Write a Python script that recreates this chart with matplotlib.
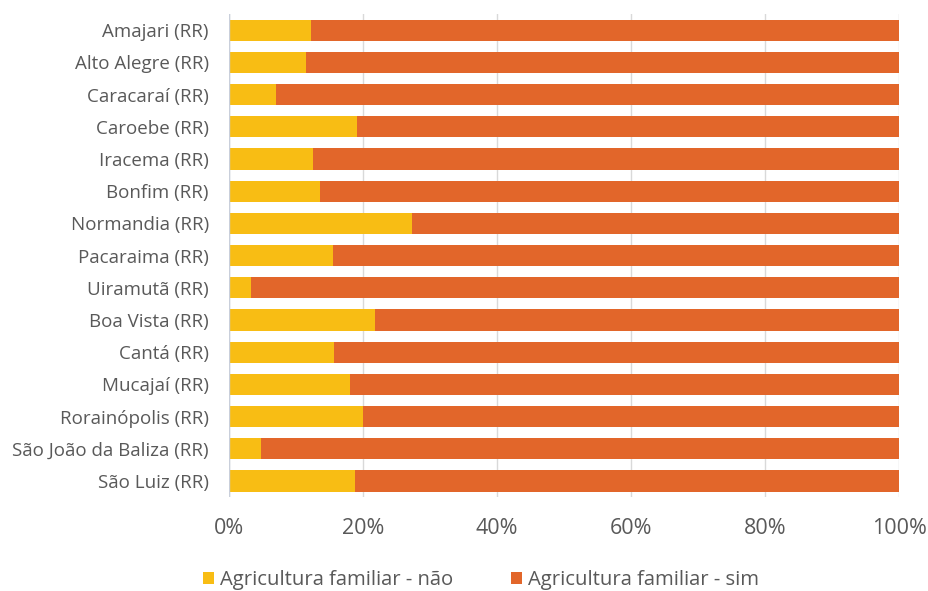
import matplotlib
matplotlib.use("Agg")
import matplotlib.pyplot as plt
from matplotlib.ticker import FuncFormatter

plt.rcParams['font.family'] = ['Open Sans', 'DejaVu Sans']

municipios = ["Amajari (RR)", "Alto Alegre (RR)", "Caracaraí (RR)", "Caroebe (RR)",
              "Iracema (RR)", "Bonfim (RR)", "Normandia (RR)", "Pacaraima (RR)",
              "Uiramutã (RR)", "Boa Vista (RR)", "Cantá (RR)", "Mucajaí (RR)",
              "Rorainópolis (RR)", "São João da Baliza (RR)", "São Luiz (RR)"]
nao = [12.3, 11.5, 7.0, 19.1, 12.5, 13.6, 27.3, 15.5, 3.3, 21.8, 15.6, 18.1, 20.0, 4.8, 18.8]
sim = [100 - v for v in nao]

cor_nao = '#F8BD14'
cor_sim = '#E2662A'
cinza = '#595959'

fig = plt.figure(figsize=(9.29, 5.91), dpi=100)
ax = fig.add_axes([0.2465, 0.159, 0.7212, 0.817])

y = list(range(len(municipios)))
ax.barh(y, nao, height=0.66, color=cor_nao, label='Agricultura familiar - não', zorder=3)
ax.barh(y, sim, left=nao, height=0.66, color=cor_sim, label='Agricultura familiar - sim', zorder=3)

ax.set_xlim(0, 100)
ax.set_ylim(len(municipios) - 0.5, -0.5)
ax.set_yticks(y)
ax.set_yticklabels(municipios, fontsize=13.5, color=cinza)
ax.set_xticks([0, 20, 40, 60, 80, 100])
ax.xaxis.set_major_formatter(FuncFormatter(lambda v, p: '%d%%' % v))
ax.tick_params(axis='x', labelsize=15.5, labelcolor=cinza, length=0, pad=15)
ax.tick_params(axis='y', length=0, pad=14.4)
ax.grid(axis='x', color='#D9D9D9', linewidth=1, zorder=0)
for s in ax.spines.values():
    s.set_visible(False)
ax.axvline(0, color='#C9CFDB', linewidth=1, zorder=4)

leg = fig.legend(loc='lower center', bbox_to_anchor=(0.518, -0.03), ncol=2, frameon=False,
                 fontsize=14.6, handlelength=0.55, handleheight=0.55, handletextpad=0.3,
                 columnspacing=2.85)
for t in leg.get_texts():
    t.set_color(cinza)

fig.savefig('out.png', dpi=100)
